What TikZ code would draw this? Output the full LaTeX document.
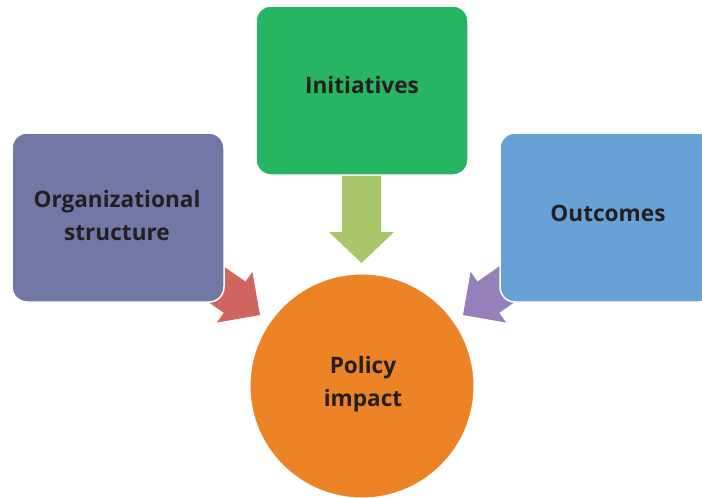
\documentclass[tikz,border=0pt]{standalone}
\usepackage{fontspec}
\setmainfont{Open Sans}
\definecolor{cOrg}{HTML}{7178A6}
\definecolor{cIni}{HTML}{27B463}
\definecolor{cOut}{HTML}{68A1D6}
\definecolor{cPol}{HTML}{EC8326}
\definecolor{cArrR}{HTML}{D16660}
\definecolor{cArrG}{HTML}{AAC66A}
\definecolor{cArrP}{HTML}{9680B9}
\definecolor{cText}{HTML}{231F20}
\begin{document}
\begin{tikzpicture}[x=1pt,y=-1pt,
  box/.style={draw=white, line width=1.5pt, rounded corners=15pt},
  lbl/.style={text=cText, font=\fontsize{22.6}{33}\selectfont\bfseries, align=center}]
\useasboundingbox (0,0) rectangle (702,498);
% arrows (drawn beneath boxes)
\fill[cArrR] (208.6,255.8) -- (245.5,281.6) -- (252.4,271.8) -- (260,315) -- (216.8,322.6) -- (223.7,312.8) -- (186.8,287) -- cycle;
\fill[cArrP] (514.4,255.8) -- (477.5,281.6) -- (470.6,271.8) -- (463,315) -- (506.2,322.6) -- (499.3,312.8) -- (536.2,287) -- cycle;
\fill[cArrG] (342,165) -- (381,165) -- (381,232) -- (394,232) -- (361.5,263) -- (329,232) -- (342,232) -- cycle;
% boxes
\path[box, fill=cOrg] (12,133) rectangle (224,302);
\path[box, fill=cIni] (256,6) rectangle (468,175);
\path[box, fill=cOut] (500,133) rectangle (714,302);
\node[lbl] (org) at (117,216) {Organizational\\structure};
\node[lbl] (ini) at (362,85) {Initiatives};
\node[lbl] (out) at (608,213) {Outcomes};
% circle
\node[circle, draw=white, line width=1pt, fill=cPol, minimum size=224pt, inner sep=0pt] (pol) at (362,386) {};
\node[lbl] (poltext) at (363,384) {Policy\\impact};
\end{tikzpicture}
\end{document}
